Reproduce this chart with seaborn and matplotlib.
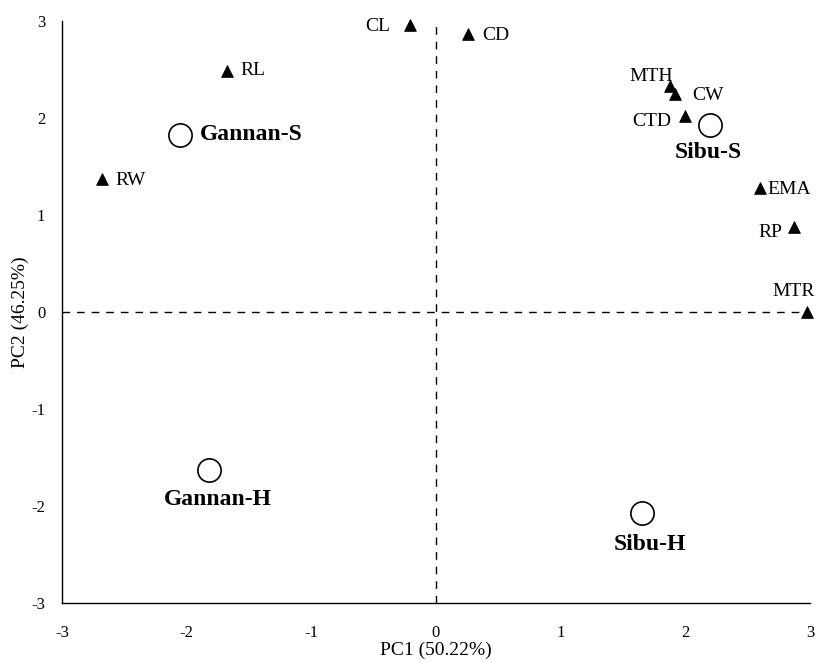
import numpy as np
import pandas as pd
import matplotlib
matplotlib.use("Agg")
import matplotlib.pyplot as plt
import seaborn as sns

# variable loadings (triangles)
var_names = ['CL', 'CD', 'RL', 'RW', 'MTH', 'CW', 'CTD', 'EMA', 'RP', 'MTR']
var_pc1 = [-0.21, 0.26, -1.68, -2.68, 1.88, 1.92, 2.00, 2.60, 2.87, 2.98]
var_pc2 = [2.96, 2.87, 2.49, 1.37, 2.33, 2.25, 2.02, 1.28, 0.88, 0.00]

# sample scores (open circles)
grp_names = ['Gannan-S', 'Sibu-S', 'Gannan-H', 'Sibu-H']
grp_pc1 = [-2.05, 2.20, -1.82, 1.65]
grp_pc2 = [1.83, 1.93, -1.63, -2.07]

ticks = [-3, -2, -1, 0, 1, 2, 3]

sns.set_style("white")
plt.rcParams['font.family'] = ['Liberation Serif', 'DejaVu Serif']
plt.rcParams['text.color'] = 'black'
plt.rcParams['axes.labelcolor'] = 'black'
plt.rcParams['xtick.color'] = 'black'
plt.rcParams['ytick.color'] = 'black'

df_var = pd.DataFrame({'name': var_names, 'pc1': var_pc1, 'pc2': var_pc2})
df_grp = pd.DataFrame({'name': grp_names, 'pc1': grp_pc1, 'pc2': grp_pc2})

fig = plt.figure(figsize=(8.2, 6.62), dpi=100)
ax = fig.add_axes([0.0756, 0.0891, 0.912, 0.879])

ax.axhline(0, color='black', ls=(0, (5.5, 5)), lw=1, zorder=1)
ax.axvline(0, color='black', ls=(0, (5.5, 5)), lw=1, zorder=1)

sns.scatterplot(data=df_var, x='pc1', y='pc2', marker='^', color='black',
                s=70, edgecolor='black', ax=ax, zorder=3, clip_on=False)
sns.scatterplot(data=df_grp, x='pc1', y='pc2', marker='o', facecolor='white',
                edgecolor='black', linewidth=1.2, s=280, ax=ax, zorder=3)

# label offsets in points
var_off = {
    'CL': (-14, -1, 'right', 'center'),
    'CD': (10, -1, 'left', 'center'),
    'RL': (10, 0, 'left', 'center'),
    'RW': (10, -1, 'left', 'center'),
    'MTH': (2, 7, 'right', 'center'),
    'CW': (12, -1, 'left', 'center'),
    'CTD': (-10, -4, 'right', 'center'),
    'EMA': (5, -1, 'left', 'center'),
    'RP': (-8, -4.5, 'right', 'center'),
    'MTR': (-10, 15, 'center', 'center'),
}
for n, x, y in zip(var_names, var_pc1, var_pc2):
    dx, dy, ha, va = var_off[n]
    ax.annotate(n, (x, y), xytext=(dx, dy), textcoords='offset points',
                ha=ha, va=va, fontsize=14)

grp_off = {
    'Gannan-S': (14, 0, 'left', 'center'),
    'Sibu-S': (-1, -20, 'center', 'center'),
    'Gannan-H': (6, -21, 'center', 'center'),
    'Sibu-H': (6, -23, 'center', 'center'),
}
for n, x, y in zip(grp_names, grp_pc1, grp_pc2):
    dx, dy, ha, va = grp_off[n]
    ax.annotate(n, (x, y), xytext=(dx, dy), textcoords='offset points',
                ha=ha, va=va, fontsize=17, fontweight='bold')

ax.set_xlim(-3, 3)
ax.set_ylim(-3, 3)
ax.set_xticks(ticks)
ax.set_yticks(ticks)
ax.set_xticklabels([str(t) for t in ticks], fontsize=12)
ax.set_yticklabels([str(t) for t in ticks], fontsize=12)
ax.tick_params(axis='x', direction='in', length=4, width=1, pad=16)
ax.tick_params(axis='y', direction='in', length=4, width=1, pad=12)
for sp in ['top', 'right']:
    ax.spines[sp].set_visible(False)
for sp in ['left', 'bottom']:
    ax.spines[sp].set_color('black')
    ax.spines[sp].set_linewidth(1)

ax.set_xlabel('PC1 (50.22%)', fontsize=14, labelpad=0)
ax.set_ylabel('PC2 (46.25%)', fontsize=14, labelpad=2)

fig.savefig('out.png', dpi=100)
